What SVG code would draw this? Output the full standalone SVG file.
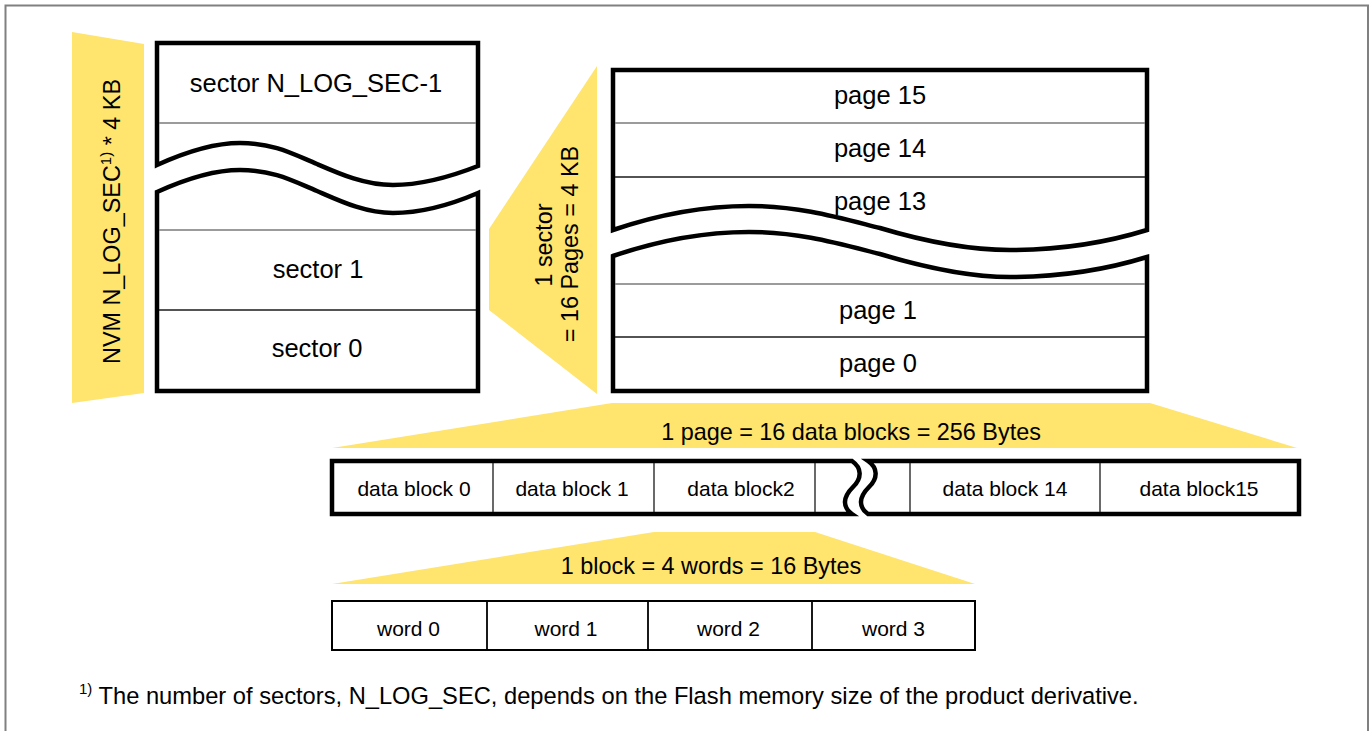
<svg xmlns="http://www.w3.org/2000/svg" width="1370" height="731" viewBox="0 0 1370 731">
<style>
text{font-family:"Liberation Sans",Arial,sans-serif;fill:#000}
.band{fill:#FFE46E;stroke:none}
.box{fill:#fff;stroke:#000;stroke-width:4.5;stroke-linejoin:miter}
.thin{fill:#fff;stroke:#000;stroke-width:2}
.gl{stroke:#7a7a7a;stroke-width:1.5}
.dl{stroke:#1a1a1a;stroke-width:1.3}
.lbl{font-size:25.5px;text-anchor:middle}
.db{font-size:21px;text-anchor:middle}
.bl{font-size:23.4px;text-anchor:middle}
</style>
<rect x="0" y="0" width="1370" height="731" fill="#fff"/>
<path id="frame" d="M5.5,731 L5.5,5.5 L1368,5.5 L1368,731" fill="none" stroke="#808080" stroke-width="2"/>

<g id="connectors">
  <g id="nvm-band">
    <polygon class="band" points="72,32 144,44 144,393 72,403"/>
    <text class="bl" transform="translate(120,221.5) rotate(-90)">NVM N_LOG_SEC<tspan font-size="15" dy="-9">1)</tspan><tspan dy="9"> * 4 KB</tspan></text>
  </g>
  <g id="sector-band">
    <polygon class="band" points="597,66 597,394 489,310 489,229"/>
    <text class="bl" transform="translate(552,245) rotate(-90)">1 sector</text>
    <text class="bl" transform="translate(578,244) rotate(-90)">= 16 Pages = 4 KB</text>
  </g>
  <g id="page-band">
    <polygon class="band" points="332,448 612,403 1150,403 1297,448"/>
    <text class="bl" x="851" y="440">1 page = 16 data blocks = 256 Bytes</text>
  </g>
  <g id="block-band">
    <polygon class="band" points="332,584 654,532 815,532 975,584"/>
    <text class="bl" x="711" y="574">1 block = 4 words = 16 Bytes</text>
  </g>
</g>

<g id="sector-stack">
  <path class="box" d="M157,43 L157,165 C190,150 215,143 240,143 C275,143 295,155 317,164 C340,174 365,185 393,185 C420,185 450,177 478,166 L478,43 Z"/>
  <line class="gl" x1="159" y1="123" x2="476" y2="123"/>
  <path class="box" d="M157,192 C190,177 215,170 240,170 C275,170 295,182 317,191 C340,201 365,213 393,213 C420,213 450,205 478,193 L478,391 L157,391 Z"/>
  <line class="gl" x1="159" y1="230" x2="476" y2="230"/>
  <line class="dl" x1="159" y1="310" x2="476" y2="310"/>
  <text class="lbl" x="316" y="92">sector N_LOG_SEC-1</text>
  <text class="lbl" x="318" y="278">sector 1</text>
  <text class="lbl" x="317" y="357">sector 0</text>
</g>

<g id="page-stack">
  <path class="box" d="M613,70 L613,230 C660,214 705,206 749,206 C800,206 840,218 880,228 C920,240 965,250 1010,250 C1060,250 1105,243 1147,230 L1147,70 Z"/>
  <line class="gl" x1="615" y1="123" x2="1145" y2="123"/>
  <line class="dl" x1="615" y1="177" x2="1145" y2="177"/>
  <text class="lbl" x="880" y="104">page 15</text>
  <text class="lbl" x="880" y="157">page 14</text>
  <text class="lbl" x="880" y="210">page 13</text>
  <path class="box" d="M613,256 C660,240 705,232 749,232 C800,232 840,244 880,254 C920,266 965,277 1010,277 C1060,277 1105,270 1147,257 L1147,391 L613,391 Z"/>
  <line class="gl" x1="615" y1="284" x2="1145" y2="284"/>
  <line class="dl" x1="615" y1="337" x2="1145" y2="337"/>
  <text class="lbl" x="878" y="319">page 1</text>
  <text class="lbl" x="878" y="372">page 0</text>
</g>

<g id="data-block-row">
  <path class="box" d="M852,461 L332,461 L332,514 L852,514 C842,507 843,497 853,487 C862,478 862,468 852,461 Z"/>
  <path class="box" d="M868,461 L1299,461 L1299,514 L868,514 C858,507 859,497 869,487 C878,478 878,468 868,461 Z"/>
  <line class="dl" x1="493" y1="463" x2="493" y2="512"/>
  <line class="dl" x1="654" y1="463" x2="654" y2="512"/>
  <line class="dl" x1="815" y1="463" x2="815" y2="512"/>
  <line class="dl" x1="910" y1="463" x2="910" y2="512"/>
  <line class="dl" x1="1100" y1="463" x2="1100" y2="512"/>
  <text class="db" x="414" y="496">data block 0</text>
  <text class="db" x="572" y="496">data block 1</text>
  <text class="db" x="741" y="496">data block2</text>
  <text class="db" x="1005" y="496">data block 14</text>
  <text class="db" x="1199" y="496">data block15</text>
</g>

<g id="word-row">
  <rect class="thin" x="332" y="601" width="643" height="49"/>
  <line stroke="#000" stroke-width="1.8" x1="487" y1="601" x2="487" y2="650"/>
  <line stroke="#000" stroke-width="1.8" x1="648" y1="601" x2="648" y2="650"/>
  <line stroke="#000" stroke-width="1.8" x1="812" y1="601" x2="812" y2="650"/>
  <text class="db" x="408.5" y="636">word 0</text>
  <text class="db" x="566" y="636">word 1</text>
  <text class="db" x="728.5" y="636">word 2</text>
  <text class="db" x="893.5" y="636">word 3</text>
</g>

<g id="footnote">
  <text x="79" y="704" font-size="23.7"><tspan font-size="15" dy="-10">1)</tspan><tspan dy="10"> The number of sectors, N_LOG_SEC, depends on the Flash memory size of the product derivative.</tspan></text>
</g>
</svg>
